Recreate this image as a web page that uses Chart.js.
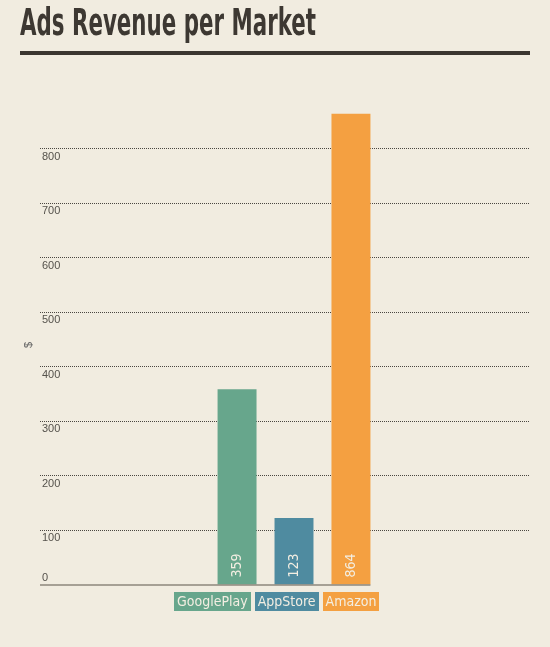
<!DOCTYPE html>
<html>
<head>
<meta charset="utf-8">
<script src="https://cdn.jsdelivr.net/npm/chart.js@4.4.1/dist/chart.umd.min.js"></script>
<style>
  html, body { margin: 0; padding: 0; background: #f1ece0; }
  body { width: 550px; height: 647px; position: relative; overflow: hidden; }
  #title { position: absolute; left: 20px; top: 1px; margin: 0; line-height: 44px;
    font-family: 'DejaVu Sans Condensed', 'Roboto', sans-serif;
    font-weight: bold; font-size: 37px; color: #3d3832; white-space: nowrap;
    transform-origin: 0 0; }
  #rule { position: absolute; left: 20px; top: 51px; width: 510px; height: 4px; background: #3b3630; }
  #wrap { position: absolute; left: 0; top: 0; width: 550px; height: 647px; }
  #legend { position: absolute; left: 174px; top: 592px; display: flex; gap: 4px; }
  #legend span { display: block; height: 19px; line-height: 19px; padding: 0 3px;
    font-family: 'DejaVu Sans Condensed', sans-serif; font-size: 14px; color: #f3eee2; }
</style>
</head>
<body>
<div id="wrap"><canvas id="c" width="550" height="647"></canvas></div>
<h1 id="title">Ads Revenue per Market</h1>
<div id="rule"></div>
<div id="legend"></div>
<script>
const markets = ['GooglePlay', 'AppStore', 'Amazon'];
const revenue = [359, 123, 864];
const colors = ['#67a68c', '#4f8ba0', '#f4a041'];
const yTicks = [0, 100, 200, 300, 400, 500, 600, 700, 800];
const yTitle = '$';

const datasets = markets.map((m, i) => ({
  label: m,
  data: [revenue[i]],
  backgroundColor: colors[i],
  borderWidth: 0,
  categoryPercentage: 0.362,
  barPercentage: 0.684
}));

const barLabels = {
  id: 'barLabels',
  afterDatasetsDraw(chart) {
    const ctx = chart.ctx;
    ctx.save();
    ctx.font = "14px 'DejaVu Sans Condensed', sans-serif";
    ctx.fillStyle = '#f3eee2';
    ctx.textAlign = 'center';
    ctx.textBaseline = 'middle';
    chart.data.datasets.forEach((ds, i) => {
      const bar = chart.getDatasetMeta(i).data[0];
      ctx.save();
      ctx.translate(bar.x, bar.base - 19);
      ctx.rotate(-Math.PI / 2);
      ctx.fillText(String(ds.data[0]), 0, 0);
      ctx.restore();
    });
    // baseline
    const metaLast = chart.getDatasetMeta(chart.data.datasets.length - 1).data[0];
    const y0 = chart.scales.y.getPixelForValue(0);
    ctx.strokeStyle = '#8c877d';
    ctx.lineWidth = 1.5;
    ctx.beginPath();
    ctx.moveTo(chart.chartArea.left - 18, y0);
    ctx.lineTo(metaLast.x + metaLast.width / 2, y0);
    ctx.stroke();
    ctx.restore();
  }
};

new Chart(document.getElementById('c'), {
  type: 'bar',
  data: { labels: [''], datasets },
  options: {
    responsive: false,
    animation: false,
    layout: { padding: { top: 105, bottom: 62, left: 22, right: 20 } },
    plugins: { legend: { display: false }, tooltip: { enabled: false } },
    scales: {
      x: { display: false },
      y: {
        min: 0, max: 880,
        afterBuildTicks: s => { s.ticks = yTicks.map(v => ({ value: v })); },
        afterFit: s => { s.width = 36; },
        border: { display: false, dash: [1, 1] },
        grid: {
          color: c => c.tick && c.tick.value === 0 ? 'rgba(0,0,0,0)' : '#4a4640',
          lineWidth: 1,
          tickBorderDash: [1, 1],
          tickLength: 18,
          drawTicks: true
        },
        ticks: {
          autoSkip: false,
          mirror: true,
          padding: -16,
          labelOffset: 8,
          color: '#55524c',
          font: c => ({ family: "'Liberation Sans', Arial, sans-serif", size: 11,
                        lineHeight: (c.tick && c.tick.value === 0) ? '30px' : 1.2 }),
          callback: v => v === 0 ? ['0', ''] : String(v)
        },
        title: {
          display: true, text: yTitle, color: '#666',
          font: { family: "'Liberation Sans', Arial, sans-serif", size: 11 },
          padding: 0
        }
      }
    }
  },
  plugins: [barLabels]
});

const legend = document.getElementById('legend');
markets.forEach((m, i) => {
  const s = document.createElement('span');
  s.textContent = m;
  s.style.background = colors[i];
  legend.appendChild(s);
});

const t = document.getElementById('title');
t.style.transform = 'scaleX(' + (296 / t.getBoundingClientRect().width) + ')';
</script>
</body>
</html>
